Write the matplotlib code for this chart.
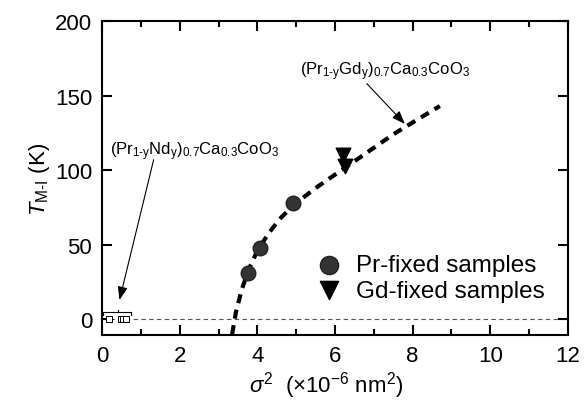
import matplotlib
matplotlib.use("Agg")
import matplotlib.pyplot as plt
import numpy as np

plt.rcParams['font.family'] = ['Liberation Sans', 'DejaVu Sans']
plt.rcParams['mathtext.fontset'] = 'custom'
plt.rcParams['mathtext.rm'] = 'Liberation Sans'
plt.rcParams['mathtext.it'] = 'Liberation Sans:italic'

# Data
pr_x = [3.77, 4.07, 4.93]
pr_y = [31, 47.5, 77.7]
gd_x = [6.2, 6.25]
gd_y = [110, 103]
nd_x = [0.18, 0.48, 0.55, 0.62]
nd_y = [0, 0, 0, 0]
nd_xerr = [0.1, 0.08, 0.08, 0.08]
fit_x = [3.35, 3.45, 3.6, 3.77, 4.0, 4.3, 4.6, 5.0, 5.5, 6.0, 6.5, 7.0, 7.5, 8.0, 8.7]
fit_y = [-10, 5, 20, 33, 46, 58, 68, 78, 88, 97, 106, 115, 124, 132, 143]

fig = plt.figure(figsize=(5.87, 4.10), dpi=100)
ax = fig.add_axes([0.1738, 0.1805, 0.7938, 0.7658])

ax.axhline(0, color='#555555', lw=0.8, ls=(0, (4, 3)), zorder=1)
ax.plot(fit_x, fit_y, color='black', lw=3, ls=(0, (2.2, 1.6)), zorder=2)
ax.errorbar(nd_x, nd_y, xerr=nd_xerr, fmt='s', mfc='white', mec='black',
            ecolor='black', ms=5, mew=0.7, elinewidth=0.7, capsize=0, zorder=3)
ax.scatter(pr_x, pr_y, s=110, color='#333333', edgecolors='#222222', zorder=4,
           label='Pr-fixed samples')
ax.scatter(gd_x, gd_y, s=110, marker='v', color='black', zorder=4,
           label='Gd-fixed samples')

# bracket over Nd samples
ax.plot([0.02, 0.02, 0.75, 0.75], [3, 5, 5, 3], color='black', lw=0.8)
ax.plot([0.4, 0.4], [5, 6.5], color='black', lw=0.8)

ax.annotate('', xy=(0.45, 13), xytext=(1.33, 107),
            arrowprops=dict(arrowstyle='-|>,head_length=0.8,head_width=0.3',
                            color='black', lw=0.8, shrinkA=0, shrinkB=0))
ax.text(0.2, 113, r'(Pr$_{\mathrm{1\text{-}y}}$Nd$_{\mathrm{y}}$)$_{\mathrm{0.7}}$Ca$_{\mathrm{0.3}}$CoO$_{\mathrm{3}}$',
        fontsize=12, va='center', ha='left')
ax.annotate('', xy=(7.8, 131), xytext=(6.82, 158),
            arrowprops=dict(arrowstyle='-|>,head_length=0.8,head_width=0.3',
                            color='black', lw=0.8, shrinkA=0, shrinkB=0))
ax.text(5.1, 167, r'(Pr$_{\mathrm{1\text{-}y}}$Gd$_{\mathrm{y}}$)$_{\mathrm{0.7}}$Ca$_{\mathrm{0.3}}$CoO$_{\mathrm{3}}$',
        fontsize=12, va='center', ha='left')

ax.set_xlim(0, 12)
ax.set_ylim(-10.5, 200)
ax.set_xticks([0, 2, 4, 6, 8, 10, 12])
ax.set_xticks([1, 3, 5, 7, 9, 11], minor=True)
ax.set_yticks([0, 50, 100, 150, 200])
ax.tick_params(which='both', direction='in', top=True, right=True, labelsize=16, width=1.5)
ax.tick_params(which='major', length=7, pad=7)
ax.tick_params(which='minor', length=4)
for s in ax.spines.values():
    s.set_linewidth(1.5)

ax.set_xlabel(r'$\it{\sigma}^{2}$  ($\times$10$^{-6}$ nm$^{2}$)', fontsize=16, labelpad=2)
ax.xaxis.set_label_coords(0.48, -0.11)
ax.set_ylabel(r'$\it{T}_{\mathrm{M\text{-}I}}$ (K)', fontsize=16, labelpad=2)

leg = ax.legend(loc='lower right', bbox_to_anchor=(0.97, 0.075), frameon=False, fontsize=17.5,
                handletextpad=0.1, labelspacing=0.15, borderaxespad=0, markerscale=1.25)

fig.savefig('out.png', dpi=100)
